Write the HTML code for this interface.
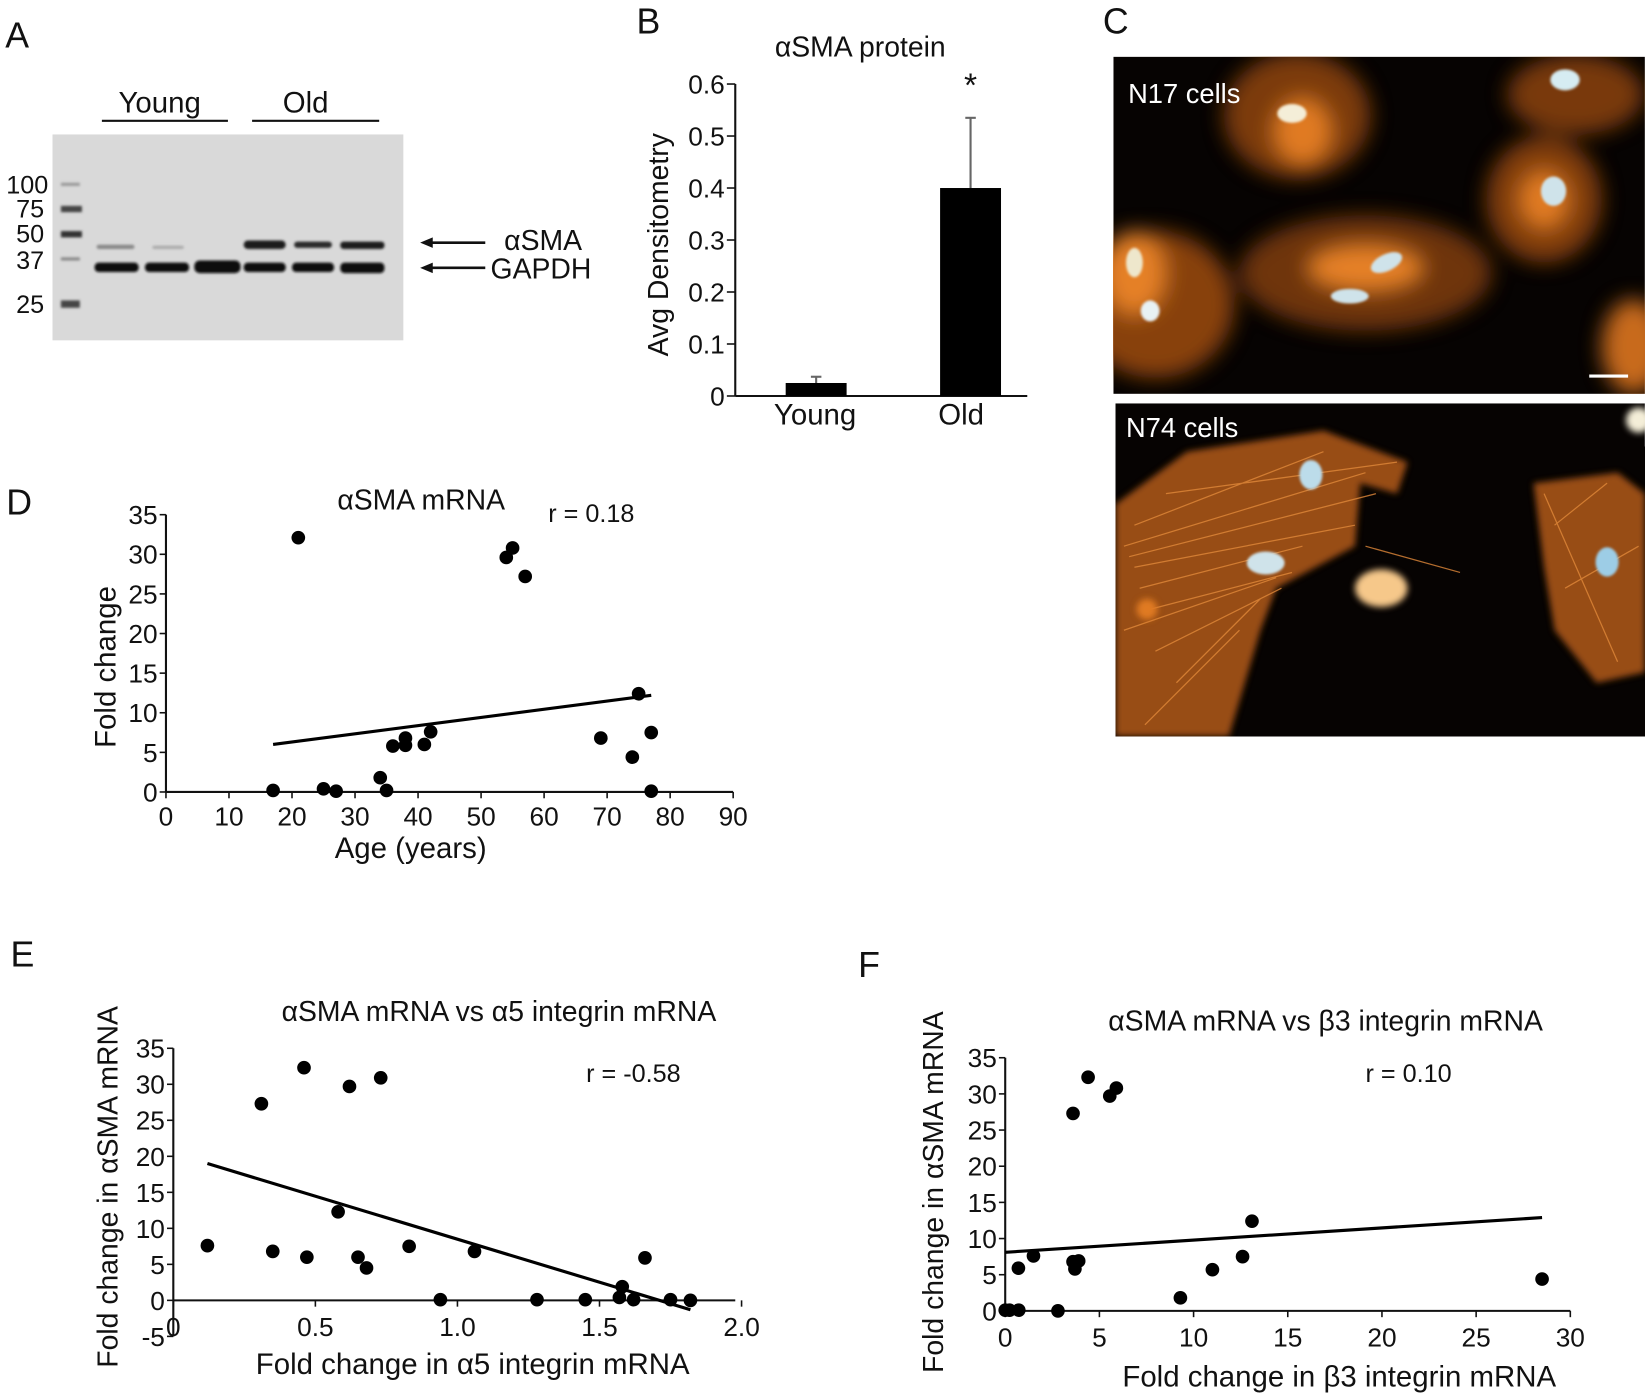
<!DOCTYPE html>
<html><head><meta charset="utf-8">
<style>
html,body{margin:0;padding:0;background:#fff;}
svg{display:block;font-family:"Liberation Sans",sans-serif;}
text{fill:#111;}
</style></head>
<body>
<svg id="fig" width="1647" height="1397" viewBox="0 0 1568 1330" preserveAspectRatio="none" xmlns="http://www.w3.org/2000/svg">
<defs>
  <filter id="blur8" x="-50%" y="-50%" width="200%" height="200%"><feGaussianBlur stdDeviation="10"/></filter>
  <filter id="blur3" x="-50%" y="-50%" width="200%" height="200%"><feGaussianBlur stdDeviation="3"/></filter>
  <filter id="blur1" x="-20%" y="-20%" width="140%" height="140%"><feGaussianBlur stdDeviation="1.2"/></filter>
  <clipPath id="clipC1"><rect x="1060" y="54" width="506" height="321"/></clipPath>
  <clipPath id="clipC2"><rect x="1062" y="384" width="504" height="317"/></clipPath>
</defs>

<text x="5" y="45" font-size="34">A</text>
<text x="606" y="32" font-size="34">B</text>
<text x="1050" y="32" font-size="34">C</text>
<text x="6" y="490" font-size="34">D</text>
<text x="10" y="920" font-size="34">E</text>
<text x="817" y="930" font-size="34">F</text>

<g>
  <text x="152" y="107" font-size="28" text-anchor="middle">Young</text>
  <line x1="97" y1="115" x2="217" y2="115" stroke="#111" stroke-width="2"/>
  <text x="291" y="107" font-size="28" text-anchor="middle">Old</text>
  <line x1="240" y1="115" x2="361" y2="115" stroke="#111" stroke-width="2"/>
  <rect x="50" y="128" width="334" height="196" fill="#d9d9d9"/>
  <g filter="url(#blur1)">
    <rect x="58" y="174" width="18" height="3" fill="#999"/>
    <rect x="58" y="196" width="20" height="6" fill="#444"/>
    <rect x="58" y="220" width="20" height="6" fill="#333"/>
    <rect x="58" y="245" width="18" height="3" fill="#888"/>
    <rect x="58" y="286" width="18" height="7" fill="#444"/>
  </g>
  <g font-size="24" text-anchor="end">
    <text x="46" y="184">100</text>
    <text x="42" y="207">75</text>
    <text x="42" y="231">50</text>
    <text x="42" y="256">37</text>
    <text x="42" y="298">25</text>
  </g>
  <g filter="url(#blur1)">
    <rect x="90" y="250" width="42" height="9" rx="4" fill="#111"/>
    <rect x="138" y="250" width="42" height="9" rx="4" fill="#111"/>
    <rect x="185" y="248" width="44" height="12" rx="5" fill="#0a0a0a"/>
    <rect x="232" y="250" width="40" height="9" rx="4" fill="#111"/>
    <rect x="278" y="250" width="40" height="9" rx="4" fill="#111"/>
    <rect x="324" y="250" width="42" height="10" rx="4" fill="#111"/>
    <rect x="92" y="233" width="36" height="4" rx="2" fill="#888"/>
    <rect x="145" y="234" width="30" height="3" rx="2" fill="#aaa"/>
    <rect x="232" y="229" width="40" height="8" rx="4" fill="#1a1a1a"/>
    <rect x="280" y="230" width="36" height="6" rx="3" fill="#2a2a2a"/>
    <rect x="324" y="230" width="42" height="7" rx="3" fill="#1a1a1a"/>
  </g>
  <line x1="462" y1="231" x2="404" y2="231" stroke="#111" stroke-width="2.5"/>
  <polygon points="400,231 412,226 412,236" fill="#111"/>
  <line x1="462" y1="255" x2="404" y2="255" stroke="#111" stroke-width="2.5"/>
  <polygon points="400,255 412,250 412,260" fill="#111"/>
  <text x="480" y="238" font-size="27">αSMA</text>
  <text x="467" y="265" font-size="27">GAPDH</text>
</g>

<g id="panelB">
  <text x="819" y="54" font-size="27" text-anchor="middle">αSMA protein</text>
  <text transform="translate(636,233) rotate(-90)" font-size="27" text-anchor="middle">Avg Densitometry</text>
</g>

<g clip-path="url(#clipC1)">
  <rect x="1060" y="54" width="506" height="321" fill="#060302"/>
  <g filter="url(#blur8)">
    <ellipse cx="1100" cy="290" rx="75" ry="70" fill="#a04d10" opacity="0.85"/>
    <ellipse cx="1235" cy="110" rx="70" ry="60" fill="#9a4a12" opacity="0.8"/>
    <ellipse cx="1240" cy="125" rx="28" ry="32" fill="#e07a22"/>
    <ellipse cx="1300" cy="260" rx="120" ry="55" fill="#8a420f" opacity="0.8"/>
    <ellipse cx="1300" cy="255" rx="55" ry="22" fill="#e58026"/>
    <ellipse cx="1470" cy="190" rx="55" ry="60" fill="#a04d10" opacity="0.8"/>
    <ellipse cx="1470" cy="190" rx="24" ry="28" fill="#e07a22"/>
    <ellipse cx="1500" cy="90" rx="65" ry="38" fill="#a04d10" opacity="0.75"/>
    <ellipse cx="1080" cy="260" rx="30" ry="40" fill="#e58026"/>
    <ellipse cx="1555" cy="330" rx="30" ry="45" fill="#c86a1c"/>
  </g>
  <g filter="url(#blur1)">
    <ellipse cx="1230" cy="108" rx="14" ry="9" fill="#f4eed8"/>
    <ellipse cx="1080" cy="250" rx="8" ry="14" fill="#eee7cc"/>
    <ellipse cx="1095" cy="296" rx="9" ry="10" fill="#e8f2f4"/>
    <ellipse cx="1320" cy="250" rx="16" ry="8" fill="#cfe3ea" transform="rotate(-25 1320 250)"/>
    <ellipse cx="1285" cy="282" rx="18" ry="7" fill="#cfe3ea"/>
    <ellipse cx="1479" cy="182" rx="12" ry="14" fill="#cfe3ea"/>
    <ellipse cx="1490" cy="76" rx="14" ry="10" fill="#d6ecf2"/>
  </g>
  <text x="1074" y="98" font-size="26" style="fill:#fff">N17 cells</text>
  <line x1="1513" y1="358" x2="1550" y2="358" stroke="#fff" stroke-width="3"/>
</g>
<g clip-path="url(#clipC2)">
  <rect x="1062" y="384" width="504" height="317" fill="#060302"/>
  <g filter="url(#blur3)">
    <polygon points="1062,480 1130,430 1260,410 1340,440 1330,470 1295,460 1290,520 1215,560 1200,600 1170,701 1062,701" fill="#a8551a" opacity="0.9"/>
    <polygon points="1460,460 1540,450 1566,470 1566,640 1520,650 1480,600 1470,540" fill="#a8551a" opacity="0.9"/>
  </g>
  <g stroke="#e0883a" stroke-width="1.2" opacity="0.8" fill="none">
    <path d="M1070,520 L1300,450 M1075,530 L1310,470 M1080,540 L1290,500 M1085,560 L1240,520 M1095,580 L1230,545 M1100,620 L1220,560 M1120,650 L1200,570 M1080,500 L1260,430 M1110,470 L1330,440 M1070,600 L1215,550 M1090,690 L1180,600 M1300,520 L1390,545 M1470,470 L1540,630 M1480,500 L1530,460 M1490,560 L1560,520"/>
  </g>
  <g filter="url(#blur3)">
    <ellipse cx="1315" cy="560" rx="25" ry="18" fill="#f6c88a"/>
    <circle cx="1092" cy="580" r="10" fill="#e07a22"/>
    <ellipse cx="1560" cy="400" rx="12" ry="12" fill="#f4eed8"/>
  </g>
  <g filter="url(#blur1)">
    <ellipse cx="1248" cy="452" rx="11" ry="14" fill="#bcdcea"/>
    <ellipse cx="1205" cy="536" rx="18" ry="11" fill="#cfe3ea"/>
    <ellipse cx="1530" cy="535" rx="11" ry="14" fill="#9dcde6"/>
  </g>
  <text x="1072" y="416" font-size="26" style="fill:#fff">N74 cells</text>
</g>

<g id="panelD">
  <text x="401" y="485" font-size="27" text-anchor="middle">αSMA mRNA</text>
  <text x="522" y="497" font-size="24">r = 0.18</text>
  <text transform="translate(110,635) rotate(-90)" font-size="28" text-anchor="middle">Fold change</text>
  <text x="391" y="817" font-size="28" text-anchor="middle">Age (years)</text>
</g>
<g id="panelE">
  <text x="475" y="972" font-size="27" text-anchor="middle">αSMA mRNA vs α5 integrin mRNA</text>
  <text x="558" y="1030" font-size="24">r = -0.58</text>
  <text transform="translate(112,1130) rotate(-90)" font-size="27" text-anchor="middle">Fold change in αSMA mRNA</text>
  <text x="450" y="1308" font-size="28" text-anchor="middle">Fold change in α5 integrin mRNA</text>
</g>
<g id="panelF">
  <text x="1262" y="981" font-size="27" text-anchor="middle">αSMA mRNA vs β3 integrin mRNA</text>
  <text x="1300" y="1030" font-size="24">r = 0.10</text>
  <text transform="translate(898,1135) rotate(-90)" font-size="27" text-anchor="middle">Fold change in αSMA mRNA</text>
  <text x="1275" y="1320" font-size="28" text-anchor="middle">Fold change in β3 integrin mRNA</text>
</g>
</svg>

<script>
const bCategories = ["Young", "Old"];
const bValues = [0.025, 0.40];
const bErrors = [0.012, 0.135];
const bTicks = [0, 0.1, 0.2, 0.3, 0.4, 0.5, 0.6];
const bTickLabels = ["0", "0.1", "0.2", "0.3", "0.4", "0.5", "0.6"];

const dAge = [17, 21, 25, 27, 34, 35, 36, 38, 38, 41, 42, 54, 55, 57, 69, 74, 75, 77, 77];
const dFold = [0.2, 32.1, 0.4, 0.1, 1.8, 0.2, 5.8, 6.8, 5.9, 6.0, 7.6, 29.6, 30.8, 27.2, 6.8, 4.4, 12.4, 7.5, 0.1];
const dFitX = [17, 77];
const dFitY = [6.0, 12.2];
const dXTicks = [0, 10, 20, 30, 40, 50, 60, 70, 80, 90];
const dYTicks = [0, 5, 10, 15, 20, 25, 30, 35];

const eA5 = [0.12, 0.31, 0.35, 0.46, 0.47, 0.58, 0.62, 0.65, 0.68, 0.73, 0.83, 0.94, 1.06, 1.28, 1.45, 1.57, 1.58, 1.62, 1.66, 1.75, 1.82];
const eFold = [7.6, 27.3, 6.8, 32.3, 6.0, 12.3, 29.7, 6.0, 4.5, 30.9, 7.5, 0.1, 6.8, 0.1, 0.1, 0.4, 1.9, 0.1, 5.9, 0.1, 0.0];
const eFitX = [0.12, 1.82];
const eFitY = [19.0, -1.3];
const eXTicks = [0, 0.5, 1.0, 1.5, 2.0];
const eXTickLabels = ["0", "0.5", "1.0", "1.5", "2.0"];
const eYTicks = [-5, 0, 5, 10, 15, 20, 25, 30, 35];

const fB3 = [0, 0.23, 0.72, 0.7, 1.5, 2.8, 3.6, 4.4, 5.55, 5.9, 3.6, 3.7, 3.9, 9.3, 11.0, 12.6, 13.1, 28.5];
const fFold = [0.1, 0.1, 0.1, 5.9, 7.6, 0.0, 27.3, 32.3, 29.7, 30.8, 6.8, 5.8, 6.9, 1.8, 5.7, 7.5, 12.4, 4.4];
const fFitX = [0, 28.5];
const fFitY = [8.1, 12.9];
const fXTicks = [0, 5, 10, 15, 20, 25, 30];
const fYTicks = [0, 5, 10, 15, 20, 25, 30, 35];

const NS = "http://www.w3.org/2000/svg";
function mk(parent, tag, attrs, txt) {
  const el = document.createElementNS(NS, tag);
  for (const k in attrs) el.setAttribute(k, attrs[k]);
  if (txt !== undefined) el.textContent = txt;
  parent.appendChild(el);
  return el;
}
function lin(d0, d1, r0, r1) { return v => r0 + (v - d0) * (r1 - r0) / (d1 - d0); }

(function () {
  const g = document.getElementById("panelB");
  const y = lin(0, 0.6, 377, 80);
  const xc = [777, 924];
  const bw = 58;
  let ax = mk(g, "line", { x1: 700, y1: 80, x2: 700, y2: 377, stroke: "#111", "stroke-width": 2 });
  
  
  ax = mk(g, "line", { x1: 700, y1: 377, x2: 978, y2: 377, stroke: "#111", "stroke-width": 2 });
  
  
  bTicks.forEach((t, i) => {
    const tk = mk(g, "line", { x1: 692, y1: y(t), x2: 700, y2: y(t), stroke: "#111", "stroke-width": 1.5 });
    
    
    const tl = mk(g, "text", { x: 690, y: y(t) + 9, "font-size": 25, "text-anchor": "end" }, bTickLabels[i]);
    
    
  });
  bValues.forEach((v, i) => {
    const r = mk(g, "rect", { x: xc[i] - bw / 2, y: y(v), width: bw, height: 377 - y(v), fill: "#000" });
    
    
    const e = mk(g, "line", { x1: xc[i], y1: y(v), x2: xc[i], y2: y(v + bErrors[i]), stroke: "#666", "stroke-width": 2 });
    
    
    const c = mk(g, "line", { x1: xc[i] - 5, y1: y(v + bErrors[i]), x2: xc[i] + 5, y2: y(v + bErrors[i]), stroke: "#666", "stroke-width": 2 });
    
    
    const l = mk(g, "text", { x: xc[i] - (i ? 9 : 1), y: 404, "font-size": 28, "text-anchor": "middle" }, bCategories[i]);
    
    
  });
  const s = mk(g, "text", { x: 924, y: 92, "font-size": 32, "text-anchor": "middle" }, "*");
  
  
})();

function scatter(gid, cfg) {
  const g = document.getElementById(gid);
  const x = lin(cfg.xd[0], cfg.xd[1], cfg.xr[0], cfg.xr[1]);
  const y = lin(cfg.yd[0], cfg.yd[1], cfg.yr[0], cfg.yr[1]);
  let a = mk(g, "line", { x1: cfg.xr[0], y1: y(0), x2: cfg.xEnd, y2: y(0), stroke: "#111", "stroke-width": 2 });
  
  
  a = mk(g, "line", { x1: x(0), y1: y(cfg.yTicks[0]), x2: x(0), y2: y(cfg.yTicks[cfg.yTicks.length - 1]), stroke: "#111", "stroke-width": 2 });
  
  
  cfg.xTicks.forEach((t, i) => {
    const tk = mk(g, "line", { x1: x(t), y1: y(0), x2: x(t), y2: y(0) + 6, stroke: "#111", "stroke-width": 1.5 });
    
    
    const tl = mk(g, "text", { x: x(t), y: y(0) + cfg.xLabDy, "font-size": 25, "text-anchor": "middle" }, cfg.xLabels ? cfg.xLabels[i] : String(t));
    
    
  });
  cfg.yTicks.forEach(t => {
    const tk = mk(g, "line", { x1: x(0) - 6, y1: y(t), x2: x(0), y2: y(t), stroke: "#111", "stroke-width": 1.5 });
    
    
    const tl = mk(g, "text", { x: x(0) - 8, y: y(t) + 9, "font-size": 25, "text-anchor": "end" }, String(t));
    
    
  });
  const fl = mk(g, "line", { x1: x(cfg.fx[0]), y1: y(cfg.fy[0]), x2: x(cfg.fx[1]), y2: y(cfg.fy[1]), stroke: "#000", "stroke-width": 3 });
  
  
  cfg.xs.forEach((v, i) => {
    const p = mk(g, "circle", { cx: x(v), cy: y(cfg.ys[i]), r: 6.5, fill: "#000" });
    
    
  });
}

scatter("panelD", { xd: [0, 90], xr: [158, 698], yd: [0, 35], yr: [754, 490], xEnd: 698,
  xTicks: dXTicks, yTicks: dYTicks, xLabDy: 32, xs: dAge, ys: dFold, fx: dFitX, fy: dFitY });
scatter("panelE", { xd: [0, 2], xr: [165, 706], yd: [0, 35], yr: [1238, 998], xEnd: 700,
  xTicks: eXTicks, xLabels: eXTickLabels, yTicks: eYTicks, xLabDy: 34, xs: eA5, ys: eFold, fx: eFitX, fy: eFitY });
scatter("panelF", { xd: [0, 30], xr: [957, 1495], yd: [0, 35], yr: [1248, 1007], xEnd: 1495,
  xTicks: fXTicks, yTicks: fYTicks, xLabDy: 34, xs: fB3, ys: fFold, fx: fFitX, fy: fFitY });
</script>
</body></html>
